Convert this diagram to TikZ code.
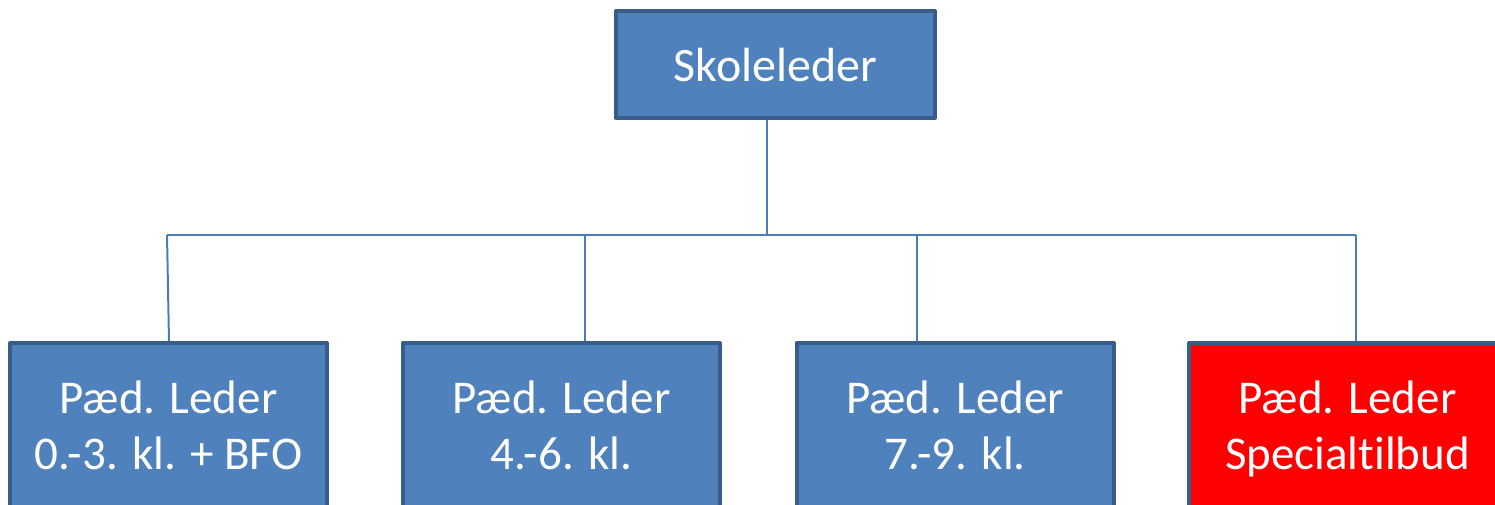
\documentclass[tikz,border=0pt]{standalone}
\usepackage{fontspec}
\setmainfont{Carlito}[Ligatures=NoCommon]
\definecolor{boxfill}{HTML}{4F81BD}
\definecolor{boxline}{HTML}{385D8A}
\definecolor{connline}{HTML}{4A7EBB}
\definecolor{redfill}{HTML}{FF0000}
\begin{document}
\begin{tikzpicture}[x=1pt,y=-1pt,
  orgbox/.style={draw=boxline, line width=4pt, fill=boxfill, text=white,
    rectangle, inner sep=0pt, line join=round, align=center},
  lowbox/.style={orgbox, minimum width=317pt, minimum height=222pt,
    text height=126pt, text depth=96pt, anchor=north,
    font=\fontsize{47}{56}\selectfont},
  conn/.style={draw=connline, line width=2pt}]
\useasboundingbox (0,0) rectangle (1495,505);
\clip (0,0) rectangle (1495,505);
\node[orgbox, minimum width=319pt, minimum height=107pt, text height=71pt,
  text depth=36pt, anchor=north, font=\fontsize{48}{58}\selectfont]
  (top) at (775.5,9) {Skoleleder};
\node[lowbox] (b1) at (168.5,341) {Pæd. Leder\\0.-3. kl. + BFO};
\node[lowbox] (b2) at (561.5,341) {Pæd. Leder\\4.-6. kl.};
\node[lowbox] (b3) at (955,341) {Pæd. Leder\\7.-9. kl.};
\node[lowbox, fill=redfill] (b4) at (1347.5,341) {Pæd. Leder\\Specialtilbud};
\coordinate (j0) at (767,235);
\coordinate (j1) at (167,235);
\coordinate (j2) at (585,235);
\coordinate (j3) at (917,235);
\coordinate (j4) at (1356,235);
\draw[conn] (j0 |- top.south) -- (j0);
\draw[conn] (j1) -- (j4);
\draw[conn] (j1) -- ([xshift=0.5pt]b1.north);
\draw[conn] (j2) -- (j2 |- b2.north);
\draw[conn] (j3) -- (j3 |- b3.north);
\draw[conn] (j4) -- (j4 |- b4.north);
\end{tikzpicture}
\end{document}
